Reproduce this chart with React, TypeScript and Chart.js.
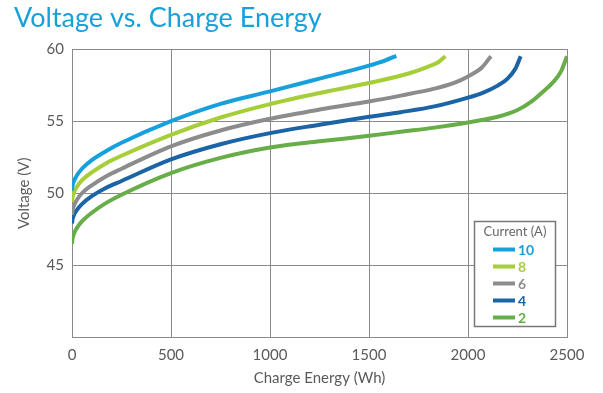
import React, { useEffect, useRef } from "react";
import { Chart, registerables } from "chart.js";

Chart.register(...registerables);

const TITLE = "Voltage vs. Charge Energy";
const X_TITLE = "Charge Energy (Wh)";
const Y_TITLE = "Voltage (V)";
const LEGEND_TITLE = "Current (A)";

const xTicks = [0, 500, 1000, 1500, 2000, 2500];
const yTicks = [45, 50, 55, 60];

const seriesLabels = ["10", "8", "6", "4", "2"];
const seriesColors = ["#16a1dc", "#a6ce39", "#8c8c8e", "#1b64a6", "#68ae48"];

const energy10 = [0, 3, 10, 25, 50, 100, 175, 250, 500, 750, 1000, 1250, 1500, 1580, 1638];
const volt10 = [50.2, 50.55, 50.85, 51.25, 51.7, 52.3, 52.95, 53.5, 55.0, 56.2, 57.06, 57.95, 58.85, 59.2, 59.53];

const energy8 = [0, 3, 10, 25, 50, 100, 175, 250, 500, 750, 1000, 1250, 1500, 1700, 1800, 1850, 1886];
const volt8 = [49.4, 49.75, 50.05, 50.45, 50.9, 51.45, 52.1, 52.6, 54.05, 55.25, 56.18, 56.95, 57.64, 58.3, 58.78, 59.08, 59.5];

const energy6 = [0, 3, 10, 25, 50, 100, 175, 250, 500, 750, 1000, 1250, 1500, 1660, 1830, 1930, 2000, 2070, 2116];
const volt6 = [48.5, 48.85, 49.15, 49.55, 50.0, 50.55, 51.2, 51.7, 53.25, 54.35, 55.16, 55.8, 56.36, 56.77, 57.25, 57.65, 58.1, 58.72, 59.5];

const energy4 = [0, 3, 10, 25, 50, 100, 175, 250, 500, 750, 1000, 1250, 1500, 1660, 1830, 2000, 2080, 2150, 2200, 2240, 2266];
const volt4 = [47.9, 48.2, 48.5, 48.85, 49.25, 49.8, 50.4, 50.85, 52.35, 53.4, 54.17, 54.75, 55.3, 55.62, 56.02, 56.63, 57.0, 57.46, 57.95, 58.65, 59.5];

const energy2 = [0, 3, 10, 25, 50, 100, 175, 250, 500, 750, 1000, 1250, 1500, 1660, 1830, 2000, 2150, 2250, 2320, 2380, 2430, 2470, 2500];
const volt2 = [46.5, 46.85, 47.2, 47.6, 48.05, 48.65, 49.35, 49.9, 51.4, 52.45, 53.17, 53.6, 53.98, 54.26, 54.55, 54.91, 55.3, 55.77, 56.35, 57.05, 57.7, 58.45, 59.5];

const seriesEnergy = [energy10, energy8, energy6, energy4, energy2];
const seriesVolt = [volt10, volt8, volt6, volt4, volt2];

const FONT = "Lato, 'Open Sans', sans-serif";
const TEXT_GRAY = "#5a5a5a";
const GRID = "#8a8a8a";

const overlayPlugin = {
  id: "overlay",
  afterDraw(chart: any) {
    const ctx = chart.ctx;
    ctx.save();
    // Title
    ctx.fillStyle = "#18a0db";
    ctx.font = `27px ${FONT}`;
    ctx.textAlign = "left";
    ctx.textBaseline = "alphabetic";
    ctx.fillText(TITLE, 14, 27);

    // Legend box
    const bx = 474.5, by = 221.5, bw = 81, bh = 105;
    ctx.fillStyle = "#ffffff";
    ctx.fillRect(bx, by, bw, bh);
    ctx.strokeStyle = "#777777";
    ctx.lineWidth = 1.5;
    ctx.strokeRect(bx, by, bw, bh);

    ctx.fillStyle = "#666666";
    ctx.font = `13px ${FONT}`;
    ctx.textAlign = "center";
    ctx.textBaseline = "middle";
    ctx.fillText(LEGEND_TITLE, bx + bw / 2, 232);

    seriesLabels.forEach((label, i) => {
      const y = 249.5 + i * 17;
      const color = seriesColors[i];
      ctx.strokeStyle = color;
      ctx.lineWidth = 4;
      ctx.beginPath();
      ctx.moveTo(493, y);
      ctx.lineTo(515, y);
      ctx.stroke();
      ctx.fillStyle = color;
      ctx.font = `bold 14px ${FONT}`;
      ctx.textAlign = "left";
      ctx.textBaseline = "middle";
      ctx.fillText(label, 518, y + 1);
    });
    ctx.restore();
  },
};

export default function App() {
  const canvasRef = useRef<HTMLCanvasElement | null>(null);

  useEffect(() => {
    document.body.style.margin = "0";
    const canvas = canvasRef.current;
    if (!canvas) return;

    const datasets = seriesLabels.map((label, i) => ({
      label,
      data: seriesEnergy[i].map((x, j) => ({ x, y: seriesVolt[i][j] })),
      borderColor: seriesColors[i],
      backgroundColor: seriesColors[i],
      borderWidth: 4,
      pointRadius: 0,
      fill: false,
      cubicInterpolationMode: "monotone" as const,
    }));

    const chart = new Chart(canvas, {
      type: "line",
      data: { datasets: datasets as any },
      options: {
        animation: false,
        responsive: false,
        layout: { padding: { top: 49, right: 36, left: 0, bottom: 0 } },
        plugins: {
          legend: { display: false },
          tooltip: { enabled: false },
        },
        scales: {
          x: {
            type: "linear",
            min: xTicks[0],
            max: xTicks[xTicks.length - 1],
            afterBuildTicks: (scale: any) => {
              scale.ticks = xTicks.map((v) => ({ value: v }));
            },
            afterFit: (scale: any) => {
              scale.height = 55.5;
            },
            grid: { color: GRID, lineWidth: 1, drawTicks: false },
            border: { color: GRID, width: 1 },
            ticks: {
              color: TEXT_GRAY,
              font: { family: FONT, size: 15 },
              padding: 9,
              maxRotation: 0,
              callback: (v: any) => String(v),
            },
            title: {
              display: true,
              text: X_TITLE,
              color: TEXT_GRAY,
              font: { family: FONT, size: 15 },
              padding: { top: 0, bottom: 6 },
            },
          },
          y: {
            type: "linear",
            min: 40,
            max: 60,
            afterBuildTicks: (scale: any) => {
              scale.ticks = [40, ...yTicks].map((v) => ({ value: v }));
            },
            afterFit: (scale: any) => {
              scale.width = 72;
            },
            grid: { color: GRID, lineWidth: 1, drawTicks: false },
            border: { color: GRID, width: 1 },
            ticks: {
              color: TEXT_GRAY,
              font: { family: FONT, size: 15 },
              padding: 8,
              callback: (v: any) => (yTicks.includes(Number(v)) ? String(v) : ""),
            },
            title: {
              display: true,
              text: Y_TITLE,
              color: TEXT_GRAY,
              font: { family: FONT, size: 15 },
              padding: { top: 15, bottom: 0 },
            },
          },
        },
      },
      plugins: [overlayPlugin],
    });

    return () => chart.destroy();
  }, []);

  return (
    <div style={{ width: 603, height: 393, position: "relative", background: "#fff" }}>
      <canvas ref={canvasRef} width={603} height={393} style={{ display: "block" }} />
    </div>
  );
}
